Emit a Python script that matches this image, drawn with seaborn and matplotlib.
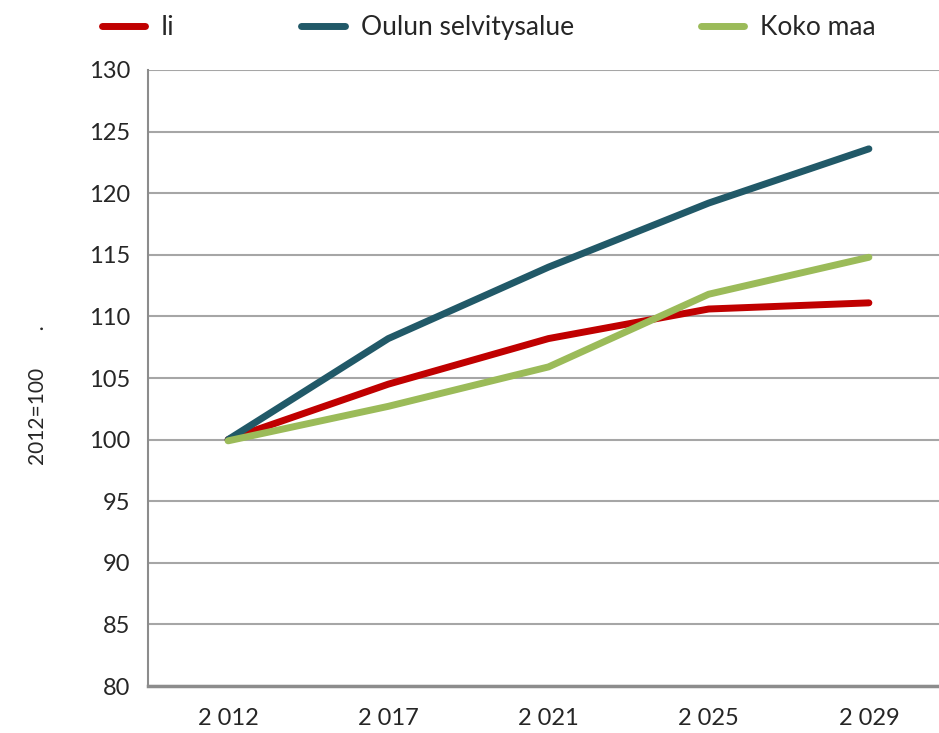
import numpy as np
import pandas as pd
import matplotlib
matplotlib.use("Agg")
import matplotlib.pyplot as plt
import seaborn as sns

# Data (index, 2012=100)
years = ["2 012", "2 017", "2 021", "2 025", "2 029"]
ii = [100.0, 104.5, 108.2, 110.6, 111.1]
oulu = [100.0, 108.2, 114.0, 119.2, 123.6]
koko_maa = [99.9, 102.7, 105.9, 111.8, 114.8]
series_names = ["Ii", "Oulun selvitysalue", "Koko maa"]
colors = ["#C00000", "#215968", "#9BBB59"]

df = pd.DataFrame({
    "pos": list(range(len(years))) * 3,
    "value": ii + oulu + koko_maa,
    "series": np.repeat(series_names, len(years)),
})

sns.set_style("white")
plt.rcParams["font.family"] = ["Lato", "DejaVu Sans"]

fig = plt.figure(figsize=(9.39, 7.33), dpi=100)
ax = fig.add_axes([148 / 939, 47 / 733, 801 / 939, 616 / 733])

sns.lineplot(data=df, x="pos", y="value", hue="series", hue_order=series_names,
             palette=colors, linewidth=5, ax=ax, legend=False,
             solid_capstyle="round", zorder=3)

ax.set_xlim(-0.5, 4.5)
ax.set_ylim(80, 130)
ax.set_yticks(range(80, 131, 5))
ax.yaxis.grid(True, color="#a6a6a6", linewidth=1.5)
ax.set_xticks(range(len(years)))
ax.set_xticklabels(years)
ax.set_xticks(np.arange(-0.5, 4.6, 1), minor=True)
ax.tick_params(axis="x", which="major", length=0, pad=16, labelsize=17)
ax.tick_params(axis="x", which="minor", length=7, width=1.5, color="#8c8c8c",
               direction="out")
ax.tick_params(axis="y", length=6, width=1.5, color="#8c8c8c", direction="out",
               labelsize=17, pad=7)
for side in ["top", "right"]:
    ax.spines[side].set_visible(False)
ax.spines["left"].set_color("#8c8c8c")
ax.spines["left"].set_linewidth(1.5)
ax.spines["bottom"].set_color("#8c8c8c")
ax.spines["bottom"].set_linewidth(2.5)

ax.set_xlabel("")
ax.set_ylabel("2012=100       .", fontsize=15)
ax.yaxis.set_label_coords(-0.125, 0.472)

handles = [plt.Line2D([0], [0], color=c, linewidth=5, solid_capstyle="round")
           for c in colors]
fig.legend(handles, series_names, loc="upper left", bbox_to_anchor=(0.083, 1.012),
           ncol=3, frameon=False, fontsize=19, handlelength=1.65,
           handletextpad=0.6, columnspacing=4.8)

fig.savefig("out.png", dpi=100)
